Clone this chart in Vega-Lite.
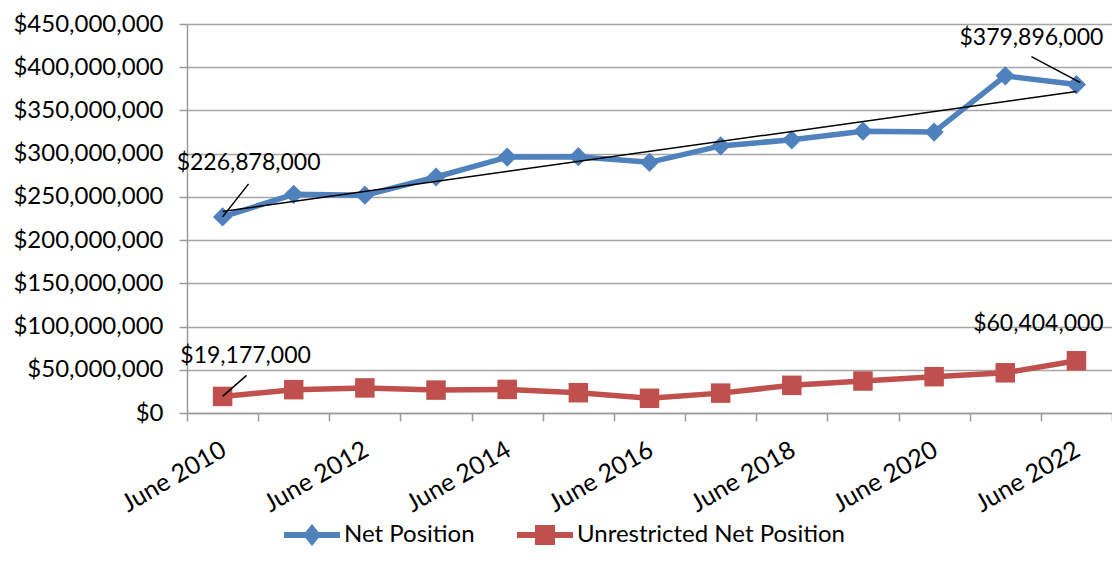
{
  "$schema": "https://vega.github.io/schema/vega-lite/v6.json",
  "width": 925,
  "height": 389,
  "autosize": {"type": "none"},
  "padding": {"left": 187, "top": 24, "right": 0, "bottom": 158},
  "background": "white",
  "config": {
    "font": "Lato",
    "view": {"stroke": null},
    "axis": {"labelFont": "Lato", "labelColor": "#000000", "domainColor": "#9A9A9A", "tickColor": "#9A9A9A", "gridColor": "#A6A6A6", "domainWidth": 1.5, "tickWidth": 1.5, "gridWidth": 1.5}
  },
  "data": {
    "values": [
      {"year": 2010, "series": "Net Position", "value": 226878000},
      {"year": 2011, "series": "Net Position", "value": 253000000},
      {"year": 2012, "series": "Net Position", "value": 252000000},
      {"year": 2013, "series": "Net Position", "value": 273000000},
      {"year": 2014, "series": "Net Position", "value": 296000000},
      {"year": 2015, "series": "Net Position", "value": 296500000},
      {"year": 2016, "series": "Net Position", "value": 290000000},
      {"year": 2017, "series": "Net Position", "value": 309000000},
      {"year": 2018, "series": "Net Position", "value": 316000000},
      {"year": 2019, "series": "Net Position", "value": 326000000},
      {"year": 2020, "series": "Net Position", "value": 325000000},
      {"year": 2021, "series": "Net Position", "value": 390000000},
      {"year": 2022, "series": "Net Position", "value": 379896000},
      {"year": 2010, "series": "Unrestricted Net Position", "value": 19177000},
      {"year": 2011, "series": "Unrestricted Net Position", "value": 27000000},
      {"year": 2012, "series": "Unrestricted Net Position", "value": 29000000},
      {"year": 2013, "series": "Unrestricted Net Position", "value": 26500000},
      {"year": 2014, "series": "Unrestricted Net Position", "value": 27300000},
      {"year": 2015, "series": "Unrestricted Net Position", "value": 23500000},
      {"year": 2016, "series": "Unrestricted Net Position", "value": 17000000},
      {"year": 2017, "series": "Unrestricted Net Position", "value": 23000000},
      {"year": 2018, "series": "Unrestricted Net Position", "value": 32000000},
      {"year": 2019, "series": "Unrestricted Net Position", "value": 37000000},
      {"year": 2020, "series": "Unrestricted Net Position", "value": 42000000},
      {"year": 2021, "series": "Unrestricted Net Position", "value": 46500000},
      {"year": 2022, "series": "Unrestricted Net Position", "value": 60404000}
    ]
  },
  "encoding": {
    "x": {
      "field": "year", "type": "ordinal",
      "scale": {"type": "band", "paddingInner": 0, "paddingOuter": 0},
      "axis": {
        "title": null, "tickBand": "extent", "tickSize": 8, "labelAngle": -30,
        "labelAlign": "right", "labelBaseline": "top",
        "labelFontSize": 25, "labelPadding": 16, "labelOffset": -5, "labelOverlap": false,
        "labelExpr": "datum.value % 2 == 0 ? 'June ' + datum.value : ''"
      }
    },
    "y": {
      "field": "value", "type": "quantitative",
      "scale": {"domain": [0, 450000000], "nice": false},
      "axis": {
        "title": null, "values": [0, 50000000, 100000000, 150000000, 200000000, 250000000, 300000000, 350000000, 400000000, 450000000],
        "format": "$,.0f", "tickSize": 8, "labelPadding": 16, "labelFontSize": 24, "grid": true
      }
    }
  },
  "layer": [
    {
      "mark": {"type": "line", "strokeWidth": 5.5},
      "encoding": {
        "color": {
          "field": "series", "type": "nominal",
          "scale": {"domain": ["Net Position", "Unrestricted Net Position"], "range": ["#4F81BD", "#C0504D"]},
          "legend": {
            "title": null, "orient": "none", "direction": "horizontal",
            "legendX": 113, "legendY": 499,
            "symbolSize": 400, "labelFontSize": 24, "labelFont": "Lato", "labelColor": "#000000",
            "labelLimit": 0,
            "labelOffset": 20, "columnPadding": 42, "symbolStrokeWidth": 0,
            "encode": {
              "symbols": {
                "update": {
                  "shape": {"signal": "datum.value == 'Net Position' ? 'M-2.8,-0.3 L-0.65,-0.3 L0,-1.1 L0.65,-0.3 L2.8,-0.3 L2.8,0.3 L0.65,0.3 L0,1.1 L-0.65,0.3 L-2.8,0.3 Z' : 'M-2.8,-0.3 L-1,-0.3 L-1,-1 L1,-1 L1,-0.3 L2.8,-0.3 L2.8,0.3 L1,0.3 L1,1 L-1,1 L-1,0.3 L-2.8,0.3 Z'"},
                  "fill": {"signal": "datum.value == 'Net Position' ? '#4F81BD' : '#C0504D'"},
                  "stroke": {"value": "transparent"},
                  "size": {"value": 400},
                  "strokeWidth": {"value": 0},
                  "opacity": {"value": 1}
                }
              }
            }
          }
        }
      }
    },
    {
      "transform": [{"filter": "datum.series == 'Net Position'"}],
      "mark": {"type": "point", "filled": true, "opacity": 1, "size": 370, "shape": "diamond", "color": "#4F81BD"}
    },
    {
      "transform": [{"filter": "datum.series == 'Unrestricted Net Position'"}],
      "mark": {"type": "point", "filled": true, "opacity": 1, "size": 380, "shape": "square", "color": "#C0504D"}
    },
    {
      "transform": [
        {"filter": "datum.series == 'Net Position'"},
        {"regression": "value", "on": "year", "method": "linear"}
      ],
      "mark": {"type": "line", "color": "#000000", "strokeWidth": 1.5}
    },
    {
      "transform": [{"filter": "datum.series == 'Net Position' && datum.year == 2010"}],
      "mark": {"type": "rule", "color": "#000000", "strokeWidth": 1.5, "x2Offset": 26, "y2Offset": -33},
      "encoding": {"x2": {"field": "year"}, "y2": {"field": "value"}}
    },
    {
      "transform": [{"filter": "datum.series == 'Net Position' && datum.year == 2022"}],
      "mark": {"type": "rule", "color": "#000000", "strokeWidth": 1.5, "xOffset": 4, "yOffset": -2, "x2Offset": -45, "y2Offset": -28},
      "encoding": {"x2": {"field": "year"}, "y2": {"field": "value"}}
    },
    {
      "transform": [{"filter": "datum.series == 'Unrestricted Net Position' && datum.year == 2010"}],
      "mark": {"type": "rule", "color": "#000000", "strokeWidth": 1.5, "x2Offset": 24, "y2Offset": -21},
      "encoding": {"x2": {"field": "year"}, "y2": {"field": "value"}}
    },
    {
      "transform": [{"filter": "datum.series == 'Net Position' && datum.year == 2010"}],
      "mark": {"type": "text", "fontSize": 23, "color": "#000000", "align": "center", "baseline": "middle", "dx": 26, "dy": -54},
      "encoding": {"text": {"field": "value", "type": "quantitative", "format": "$,.0f"}}
    },
    {
      "transform": [{"filter": "datum.series == 'Net Position' && datum.year == 2022"}],
      "mark": {"type": "text", "fontSize": 23, "color": "#000000", "align": "center", "baseline": "middle", "dx": -45, "dy": -47},
      "encoding": {"text": {"field": "value", "type": "quantitative", "format": "$,.0f"}}
    },
    {
      "transform": [{"filter": "datum.series == 'Unrestricted Net Position' && datum.year == 2010"}],
      "mark": {"type": "text", "fontSize": 23, "color": "#000000", "align": "center", "baseline": "middle", "dx": 23, "dy": -40},
      "encoding": {"text": {"field": "value", "type": "quantitative", "format": "$,.0f"}}
    },
    {
      "transform": [{"filter": "datum.series == 'Unrestricted Net Position' && datum.year == 2022"}],
      "mark": {"type": "text", "fontSize": 23, "color": "#000000", "align": "center", "baseline": "middle", "dx": -38, "dy": -37},
      "encoding": {"text": {"field": "value", "type": "quantitative", "format": "$,.0f"}}
    }
  ]
}
